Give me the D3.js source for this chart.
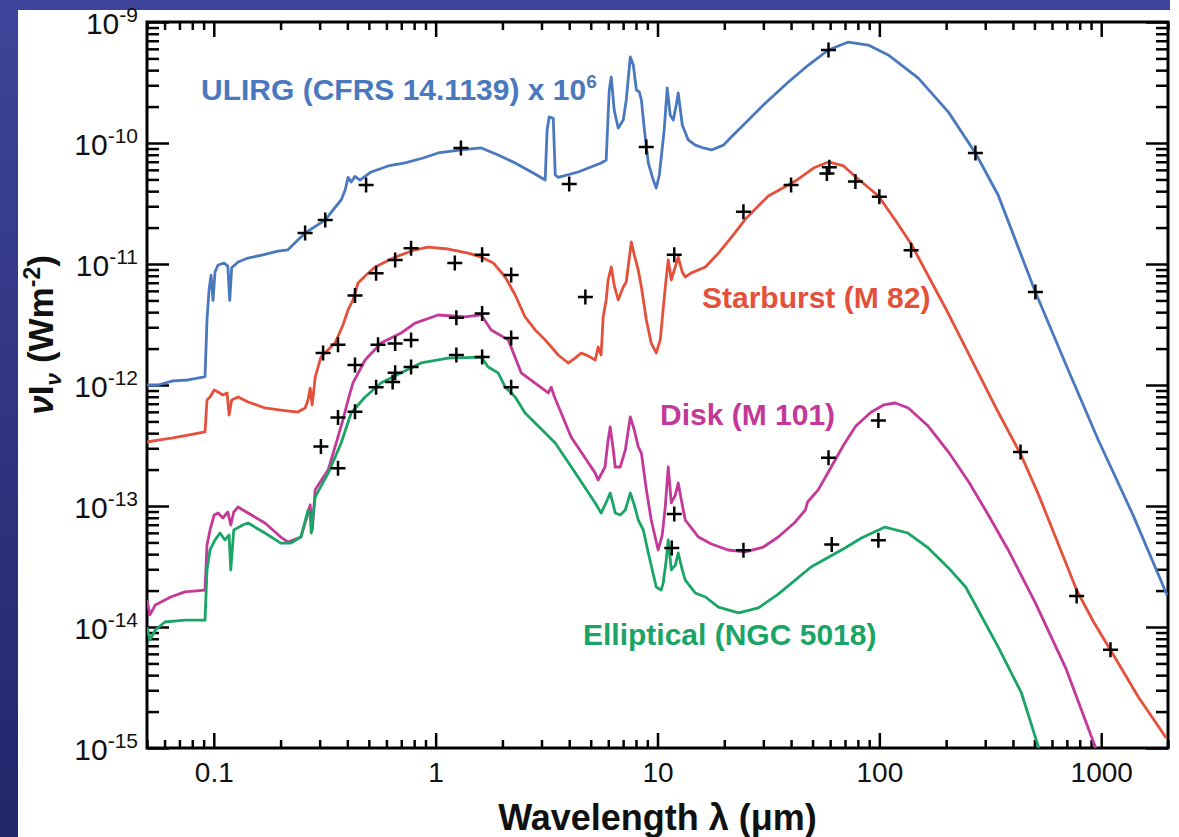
<!DOCTYPE html>
<html>
<head>
<meta charset="utf-8">
<script src="https://cdn.jsdelivr.net/npm/d3@7"></script>
<style>
  html, body { margin: 0; padding: 0; background: #fff; }
  svg { display: block; }
  text { font-family: "Liberation Sans", Arial, Helvetica, sans-serif; }
</style>
</head>
<body>
<div id="chart"></div>
<script>
// spectra: [wavelength (um), nu I_nu (W m^-2)]
const ulirgSpectrum = [[0.05,1.0e-12],[0.056,1.0e-12],[0.0655,1.08e-12],[0.0765,1.10e-12],[0.0894,1.16e-12],[0.0913,1.17e-12],[0.0932,3.45e-12],[0.0952,6.1e-12],[0.0972,8.1e-12],[0.0992,5.0e-12],[0.1013,8.6e-12],[0.1045,9.8e-12],[0.1112,1.02e-11],[0.1157,9.6e-12],[0.118,5.0e-12],[0.1204,9.3e-12],[0.1287,1.04e-11],[0.1427,1.12e-11],[0.1666,1.19e-11],[0.1946,1.28e-11],[0.2158,1.31e-11],[0.2393,1.58e-11],[0.258,1.8e-11],[0.28,1.99e-11],[0.318,2.31e-11],[0.345,2.8e-11],[0.375,3.38e-11],[0.391,4.09e-11],[0.403,5.2e-11],[0.416,4.76e-11],[0.433,5.3e-11],[0.456,4.94e-11],[0.512,5.76e-11],[0.611,6.46e-11],[0.729,6.84e-11],[0.878,7.52e-11],[1.026,8.27e-11],[1.304,8.76e-11],[1.605,9.1e-11],[1.913,7.96e-11],[2.283,6.84e-11],[2.753,5.65e-11],[3.117,4.94e-11],[3.18,1.28e-10],[3.25,1.64e-10],[3.39,1.6e-10],[3.46,5.44e-11],[3.57,5.2e-11],[4.39,5.76e-11],[5.57,6.84e-11],[5.87,7.24e-11],[6.06,2.74e-10],[6.19,3.51e-10],[6.38,1.87e-10],[6.65,1.33e-10],[7.01,1.55e-10],[7.23,2.27e-10],[7.54,5.14e-10],[7.78,4.41e-10],[8.03,2.74e-10],[8.28,2.64e-10],[8.46,2.27e-10],[8.73,1.28e-10],[9.09,6.84e-11],[9.57,4.94e-11],[9.87,4.25e-11],[10.19,5.44e-11],[10.72,1.28e-10],[11.06,2.85e-10],[11.41,1.70e-10],[11.78,1.55e-10],[12.15,2.06e-10],[12.4,2.59e-10],[12.93,1.41e-10],[13.76,1.06e-10],[14.8,9.6e-11],[16.09,9.1e-11],[17.5,8.76e-11],[19.84,9.6e-11],[21.5,1.12e-10],[25.7,1.55e-10],[30,2.06e-10],[38.9,3.19e-10],[47.9,4.41e-10],[58.9,5.87e-10],[72.5,6.83e-10],[89.1,6.45e-10],[109.6,5.34e-10],[149.8,3.44e-10],[204.8,1.80e-10],[271,8.27e-11],[343,3.72e-11],[505,5.87e-12],[710,1.33e-12],[970,3.51e-13],[1392,8.4e-14],[1980,1.84e-14]];

const starburstSpectrum = [[0.05,3.38e-13],[0.056,3.51e-13],[0.0655,3.65e-13],[0.0765,3.86e-13],[0.0913,4.09e-13],[0.0932,7.52e-13],[0.0962,7.96e-13],[0.1004,9.1e-13],[0.1045,8.76e-13],[0.1099,8.27e-13],[0.1148,8.6e-13],[0.1172,5.65e-13],[0.1204,7.52e-13],[0.1287,7.96e-13],[0.1427,7.24e-13],[0.170,6.46e-13],[0.2004,6.21e-13],[0.2393,5.98e-13],[0.258,6.46e-13],[0.266,7.52e-13],[0.2719,9.4e-13],[0.2777,6.84e-13],[0.2865,1.16e-12],[0.304,1.70e-12],[0.352,2.22e-12],[0.382,3.13e-12],[0.403,4.17e-12],[0.424,5.04e-12],[0.447,6.97e-12],[0.486,8.11e-12],[0.534,9.45e-12],[0.657,1.14e-11],[0.808,1.31e-11],[0.925,1.38e-11],[1.139,1.33e-11],[1.402,1.23e-11],[1.605,1.14e-11],[1.818,1.02e-11],[2.059,7.81e-12],[2.283,5.54e-12],[2.53,3.65e-12],[2.81,2.85e-12],[3.117,2.36e-12],[3.57,1.77e-12],[3.96,1.52e-12],[4.25,1.67e-12],[4.53,1.84e-12],[4.87,1.74e-12],[5.24,1.61e-12],[5.40,2.06e-12],[5.57,1.77e-12],[5.69,3.65e-12],[5.87,5.04e-12],[5.99,7.38e-12],[6.19,9.45e-12],[6.38,6.70e-12],[6.65,5.04e-12],[7.01,6.45e-12],[7.23,7.10e-12],[7.62,1.52e-11],[7.86,1.19e-11],[8.19,8.9e-12],[8.46,6.45e-12],[8.91,3.45e-12],[9.37,2.22e-12],[9.87,1.84e-12],[10.29,2.36e-12],[10.84,6.45e-12],[11.18,1.08e-11],[11.54,7.38e-12],[11.9,8.9e-12],[12.4,1.14e-11],[12.93,8.6e-12],[13.34,7.81e-12],[14.21,8.44e-12],[16.44,9.45e-12],[18.83,1.23e-11],[21.97,1.74e-11],[24.9,2.35e-11],[31.6,3.65e-11],[41.8,4.85e-11],[50.5,6.21e-11],[58.9,6.97e-11],[69,6.46e-11],[78.3,5.24e-11],[99.1,3.65e-11],[120,2.2e-11],[139.5,1.45e-11],[198.5,4.33e-12],[278,1.28e-12],[343,5.98e-13],[433,2.69e-13],[523,1.23e-13],[643,4.76e-14],[775,2.02e-14],[924,1.10e-14],[1101,6.45e-15],[1470,2.64e-15],[1965,1.21e-15]];

const diskSpectrum = [[0.05,1.67e-14],[0.0515,1.26e-14],[0.0545,1.52e-14],[0.0602,1.67e-14],[0.0639,1.77e-14],[0.0741,1.95e-14],[0.0913,2.02e-14],[0.0932,4.76e-14],[0.0962,6.34e-14],[0.1004,8.43e-14],[0.1045,8.75e-14],[0.1099,7.96e-14],[0.1157,8.92e-14],[0.1193,6.97e-14],[0.123,8.92e-14],[0.1287,9.82e-14],[0.1352,9.27e-14],[0.1427,8.75e-14],[0.170,7.24e-14],[0.2004,5.54e-14],[0.2158,5.04e-14],[0.247,5.54e-14],[0.266,8.75e-14],[0.272,1.02e-13],[0.278,6.34e-14],[0.2865,1.36e-13],[0.3278,1.99e-13],[0.363,3.72e-13],[0.382,5.14e-13],[0.403,7.52e-13],[0.424,1.04e-12],[0.481,1.61e-12],[0.567,2.22e-12],[0.699,2.69e-12],[0.808,3.25e-12],[1.026,3.79e-12],[1.358,3.65e-12],[1.605,3.79e-12],[1.78,2.85e-12],[2.124,2.36e-12],[2.43,1.26e-12],[3.22,8.6e-13],[3.32,9.6e-13],[3.42,8.11e-13],[4.08,3.72e-13],[5.24,1.87e-13],[5.40,1.64e-13],[5.8,2.10e-13],[5.99,3.51e-13],[6.12,4.50e-13],[6.32,2.90e-13],[6.45,2.10e-13],[6.79,2.10e-13],[7.16,2.90e-13],[7.54,5.44e-13],[7.86,4.25e-13],[8.19,3.08e-13],[8.46,2.74e-13],[8.91,1.36e-13],[9.37,7.66e-14],[10.07,4.33e-14],[10.5,5.75e-14],[10.84,9.82e-14],[11.18,2.10e-13],[11.54,1.06e-13],[12.03,1.23e-13],[12.4,1.55e-13],[12.93,1.02e-13],[13.34,7.66e-14],[15.3,5.54e-14],[17.5,4.85e-14],[20.8,4.33e-14],[24.9,4.17e-14],[30,4.58e-14],[35,5.54e-14],[41.8,7.38e-14],[46.4,9.27e-14],[47.5,1.08e-13],[53,1.36e-13],[58.9,1.91e-13],[69,3.19e-13],[78.3,4.58e-13],[92,5.98e-13],[104.5,6.84e-13],[118,7.10e-13],[135,6.46e-13],[166,4.58e-13],[205,2.79e-13],[253,1.58e-13],[310,8.43e-14],[381,4.33e-14],[505,1.58e-14],[692,4.58e-15],[944,1.0e-15]];

const ellipticalSpectrum = [[0.05,1.0e-14],[0.0515,7.8e-15],[0.0545,9.45e-15],[0.0602,1.10e-14],[0.0741,1.14e-14],[0.0913,1.14e-14],[0.0932,2.96e-14],[0.0962,4.33e-14],[0.1013,5.24e-14],[0.1067,5.98e-14],[0.1123,5.24e-14],[0.1172,5.75e-14],[0.1193,2.96e-14],[0.123,6.34e-14],[0.1352,6.97e-14],[0.1427,7.24e-14],[0.170,5.98e-14],[0.2004,4.94e-14],[0.2225,4.94e-14],[0.247,5.54e-14],[0.266,9.27e-14],[0.272,8.43e-14],[0.275,5.98e-14],[0.2865,1.19e-13],[0.3278,1.87e-13],[0.375,3.32e-13],[0.416,5.87e-13],[0.481,7.96e-13],[0.567,1.04e-12],[0.699,1.26e-12],[0.860,1.52e-12],[1.139,1.67e-12],[1.605,1.70e-12],[1.725,1.41e-12],[1.913,1.26e-12],[2.059,9.6e-13],[2.283,7.96e-13],[2.53,5.87e-13],[3.46,3.32e-13],[4.17,1.99e-13],[5.24,1.06e-13],[5.57,8.75e-14],[5.8,1.02e-13],[6.12,1.28e-13],[6.32,1.02e-13],[6.45,8.75e-14],[6.79,8.43e-14],[7.16,9.27e-14],[7.54,1.28e-13],[7.86,1.02e-13],[8.19,7.66e-14],[8.63,6.34e-14],[9.09,4.09e-14],[9.87,2.14e-14],[10.39,2.02e-14],[10.61,2.31e-14],[10.95,3.58e-14],[11.18,5.24e-14],[11.54,2.96e-14],[12.03,3.25e-14],[12.4,4.09e-14],[12.93,2.96e-14],[13.34,2.44e-14],[14.8,1.91e-14],[16.44,1.77e-14],[18.83,1.46e-14],[23.2,1.31e-14],[28.5,1.44e-14],[35,1.87e-14],[49.2,3.13e-14],[70,4.50e-14],[83,5.44e-14],[106,6.70e-14],[134.5,5.98e-14],[166,4.50e-14],[205,3.08e-14],[245,2.14e-14],[343,6.84e-15],[437,2.85e-15],[523,1.0e-15]];

// photometry (crosses)
const ulirgPoints = [[0.258,1.8e-11],[0.318,2.31e-11],[0.486,4.5e-11],[1.30,9.1e-11],[4.0,4.58e-11],[8.9,9.27e-11],[59,5.87e-10],[271,8.27e-11],[505,5.87e-12]];
const starburstPoints = [[0.311,1.84e-12],[0.363,2.15e-12],[0.433,5.5e-12],[0.539,8.4e-12],[0.657,1.08e-11],[0.775,1.35e-11],[1.22,1.02e-11],[1.62,1.19e-11],[2.19,8.1e-12],[4.73,5.33e-12],[11.9,1.19e-11],[24.4,2.7e-11],[40,4.5e-11],[58,5.6e-11],[59.5,6.3e-11],[78,4.8e-11],[100,3.6e-11],[139,1.3e-11],[433,2.8e-13],[775,1.8e-14],[1101,6.5e-15]];
const diskPoints = [[0.304,3.1e-13],[0.363,5.4e-13],[0.433,1.46e-12],[0.55,2.15e-12],[0.657,2.2e-12],[0.775,2.35e-12],[1.24,3.6e-12],[1.62,3.9e-12],[2.19,2.45e-12],[11.9,8.6e-14],[24.4,4.3e-14],[59,2.5e-13],[99,5.1e-13]];
const ellipticalPoints = [[0.363,2.05e-13],[0.433,6.0e-13],[0.539,9.6e-13],[0.64,1.06e-12],[0.657,1.26e-12],[0.775,1.41e-12],[1.24,1.77e-12],[1.62,1.7e-12],[2.19,9.6e-13],[11.6,4.5e-14],[61,4.8e-14],[99,5.2e-14]];

const seriesNames = ["ULIRG (CFRS 14.1139) x 10", "Starburst (M 82)", "Disk (M 101)", "Elliptical (NGC 5018)"];
const seriesColors = ["#4a78be", "#e4503a", "#c4389a", "#1aa566"];

const xMajor = [0.1, 1, 10, 100, 1000];
const xMajorLabels = ["0.1", "1", "10", "100", "1000"];
const yMajorExp = [-15, -14, -13, -12, -11, -10, -9];

const width = 1179, height = 837;
const plot = {left: 147, right: 1168, top: 22, bottom: 748};

const svg = d3.select("#chart").append("svg")
  .attr("width", width)
  .attr("height", height);

// slide background
const grad = svg.append("defs").append("linearGradient")
  .attr("id", "bg").attr("x1", 0).attr("y1", 0).attr("x2", 0).attr("y2", 1);
grad.append("stop").attr("offset", "0%").attr("stop-color", "#3e4499");
grad.append("stop").attr("offset", "100%").attr("stop-color", "#22266a");
svg.append("rect").attr("width", width).attr("height", height).attr("fill", "url(#bg)");
svg.append("rect").attr("x", 18).attr("y", 10).attr("width", width - 18).attr("height", height - 10).attr("fill", "#fff");
svg.append("rect").attr("x", 1170).attr("y", 0).attr("width", 9).attr("height", 10).attr("fill", "#fff");

svg.select("defs").append("clipPath").attr("id", "clip")
  .append("rect")
  .attr("x", plot.left).attr("y", plot.top)
  .attr("width", plot.right - plot.left).attr("height", plot.bottom - plot.top);

const x = d3.scaleLog().domain([0.05, 2000]).range([plot.left, plot.right]);
const y = d3.scaleLog().domain([1e-15, 1e-9]).range([plot.bottom, plot.top]);

// minor ticks
const xMinor = [];
[0.01, 0.1, 1, 10, 100, 1000].forEach(d => {
  for (let m = 2; m <= 9; m++) {
    const v = d * m;
    if (v >= 0.05 && v <= 2000) xMinor.push(v);
  }
});
const yMinor = [];
yMajorExp.slice(0, -1).forEach(e => {
  for (let m = 2; m <= 9; m++) yMinor.push(m * Math.pow(10, e));
});
const yMajor = yMajorExp.map(e => Math.pow(10, e));

function styleAxis(g) {
  g.select(".domain").remove();
  g.selectAll("line").attr("stroke", "#000").attr("stroke-width", 2.5);
}

// bottom / top
svg.append("g").attr("transform", `translate(0,${plot.bottom})`)
  .call(d3.axisBottom(x).tickValues(xMinor).tickSize(-8).tickFormat(""))
  .call(styleAxis);
svg.append("g").attr("transform", `translate(0,${plot.bottom})`)
  .call(d3.axisBottom(x).tickValues(xMajor).tickSize(-15).tickPadding(14)
    .tickFormat((d, i) => xMajorLabels[i]))
  .call(styleAxis)
  .call(g => g.selectAll("text").attr("font-size", 28).attr("fill", "#111"));
svg.append("g").attr("transform", `translate(0,${plot.top})`)
  .call(d3.axisTop(x).tickValues(xMinor).tickSize(-8).tickFormat(""))
  .call(styleAxis);
svg.append("g").attr("transform", `translate(0,${plot.top})`)
  .call(d3.axisTop(x).tickValues(xMajor).tickSize(-15).tickFormat(""))
  .call(styleAxis);

// left / right
svg.append("g").attr("transform", `translate(${plot.left},0)`)
  .call(d3.axisLeft(y).tickValues(yMinor).tickSize(-12).tickFormat(""))
  .call(styleAxis);
svg.append("g").attr("transform", `translate(${plot.left},0)`)
  .call(d3.axisLeft(y).tickValues(yMajor).tickSize(-22).tickFormat(""))
  .call(styleAxis);
svg.append("g").attr("transform", `translate(${plot.right},0)`)
  .call(d3.axisRight(y).tickValues(yMinor).tickSize(-12).tickFormat(""))
  .call(styleAxis);
svg.append("g").attr("transform", `translate(${plot.right},0)`)
  .call(d3.axisRight(y).tickValues(yMajor).tickSize(-22).tickFormat(""))
  .call(styleAxis);

// y tick labels as 10^n
const yLab = svg.append("g").selectAll("text")
  .data(yMajorExp)
  .enter()
  .append("text")
  .attr("x", 138)
  .attr("y", d => y(Math.pow(10, d)) + 12)
  .attr("text-anchor", "end")
  .attr("fill", "#111")
  .attr("font-size", 30);
yLab.append("tspan").text("10");
yLab.append("tspan").attr("dy", -12).attr("font-size", 21).text(d => "-" + (-d));

// frame
svg.append("rect")
  .attr("x", plot.left).attr("y", plot.top)
  .attr("width", plot.right - plot.left).attr("height", plot.bottom - plot.top)
  .attr("fill", "none").attr("stroke", "#000").attr("stroke-width", 3);

// spectra
const line = d3.line().x(d => x(d[0])).y(d => y(d[1]));
const spectra = [ulirgSpectrum, starburstSpectrum, diskSpectrum, ellipticalSpectrum];
svg.append("g").attr("clip-path", "url(#clip)")
  .selectAll("path")
  .data(spectra)
  .enter()
  .append("path")
  .attr("d", line)
  .attr("fill", "none")
  .attr("stroke", (d, i) => seriesColors[i])
  .attr("stroke-width", 2.8)
  .attr("stroke-linejoin", "round");

// crosses
const allPoints = [].concat(ulirgPoints, starburstPoints, diskPoints, ellipticalPoints);
const cross = 7.5;
svg.append("g").selectAll("path")
  .data(allPoints)
  .enter()
  .append("path")
  .attr("d", d => {
    const px = x(d[0]), py = y(d[1]);
    return `M${px - cross},${py}H${px + cross}M${px},${py - cross}V${py + cross}`;
  })
  .attr("stroke", "#000")
  .attr("stroke-width", 2.5);

// series labels
const labelPos = [[201, 100], [702, 308], [660, 425], [583, 645]];
svg.append("g").selectAll("text")
  .data(seriesNames)
  .enter()
  .append("text")
  .attr("x", (d, i) => labelPos[i][0])
  .attr("y", (d, i) => labelPos[i][1])
  .attr("fill", (d, i) => seriesColors[i])
  .attr("font-size", 30)
  .attr("font-weight", "bold")
  .each(function(d, i) {
    const t = d3.select(this);
    t.append("tspan").text(d);
    if (i === 0) t.append("tspan").attr("dy", -12).attr("font-size", 19).text("6");
  });

// axis titles
svg.append("text")
  .attr("x", (plot.left + plot.right) / 2)
  .attr("y", 830)
  .attr("text-anchor", "middle")
  .attr("font-size", 36)
  .attr("font-weight", "bold")
  .attr("fill", "#111")
  .text("Wavelength \u03bb (\u03bcm)");

const yt = svg.append("text")
  .attr("transform", "translate(53,335) rotate(-90)")
  .attr("text-anchor", "middle")
  .attr("font-size", 35)
  .attr("font-weight", "bold")
  .attr("fill", "#111");
yt.append("tspan").attr("font-style", "italic").text("\u03bd");
yt.append("tspan").text("I");
yt.append("tspan").attr("font-style", "italic").attr("font-size", 23).attr("dy", 8).text("\u03bd");
yt.append("tspan").attr("dy", -8).text(" (Wm");
yt.append("tspan").attr("font-size", 23).attr("dy", -13).text("-2");
yt.append("tspan").attr("dy", 13).text(")");
</script>
</body>
</html>
